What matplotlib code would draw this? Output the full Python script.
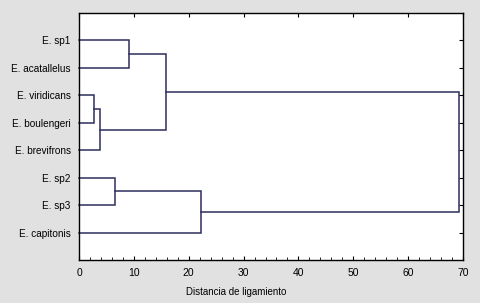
import numpy as np
import matplotlib
matplotlib.use("Agg")
from matplotlib import pyplot as plt
from matplotlib.ticker import MultipleLocator

plt.rcParams['font.family'] = ['Liberation Sans', 'DejaVu Sans']

# hojas del dendrograma (de arriba a abajo)
labels = ['E. sp1', 'E. acatallelus', 'E. viridicans', 'E. boulengeri',
          'E. brevifrons', 'E. sp2', 'E. sp3', 'E. capitonis']
# uniones: (cluster a, cluster b, distancia)
merge_a = [2, 8, 0, 10, 5, 12, 11]
merge_b = [3, 4, 1, 9, 6, 7, 13]
merge_h = [2.7, 3.9, 9.2, 15.8, 6.5, 22.2, 69.3]

line_col = '#2e2e5c'

fig = plt.figure(figsize=(4.8, 3.03), dpi=100)
fig.patch.set_facecolor('#e1e1e1')
ax = fig.add_axes([0.1646, 0.142, 0.8, 0.815])
ax.set_facecolor('white')

# posiciones de cada cluster
n = len(labels)
ypos = {i: i + 1 for i in range(n)}
xpos = {i: 0.0 for i in range(n)}
for k, (a, b, h) in enumerate(zip(merge_a, merge_b, merge_h)):
    c = n + k
    ax.plot([xpos[a], h, h, xpos[b]], [ypos[a], ypos[a], ypos[b], ypos[b]],
            color=line_col, lw=1.1, solid_joinstyle='miter', clip_on=False)
    ypos[c] = (ypos[a] + ypos[b]) / 2
    xpos[c] = h

ax.set_xlim(0, 70)
ax.set_ylim(9, 0)
ax.set_yticks(range(1, n + 1))
ax.set_yticklabels(labels, fontsize=7.2)
ax.xaxis.set_major_locator(MultipleLocator(10))
ax.xaxis.set_minor_locator(MultipleLocator(2))
ax.tick_params(axis='x', which='major', direction='in', length=3, top=True,
               labelsize=7.5, pad=6)
ax.tick_params(axis='x', which='minor', direction='in', length=2, top=False)
ax.tick_params(axis='y', direction='in', length=3, left=False, right=True,
               labelsize=7.2, pad=6)
for s in ax.spines.values():
    s.set_linewidth(1.0)
ax.set_xlabel('Distancia de ligamiento', fontsize=7, labelpad=6, x=0.41)

fig.savefig('out.png', dpi=100, facecolor=fig.get_facecolor())
